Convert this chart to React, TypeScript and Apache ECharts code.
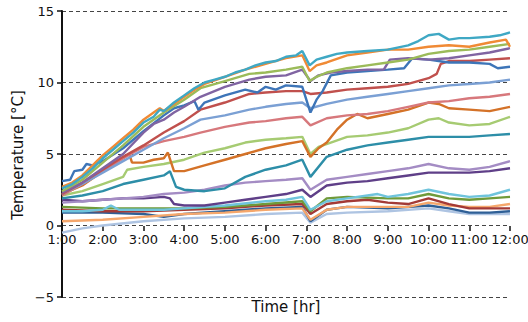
import React, { useEffect, useRef } from "react";
import * as echarts from "echarts";

const hourTicks = [1, 2, 3, 4, 5, 6, 7, 8, 9, 10, 11, 12];
const yTicks = [-5, 0, 5, 10, 15];

const cyan = [[1,2.6],[1.25,2.9],[1.5,3.4],[1.75,4.0],[2,4.7],[2.25,5.3],[2.5,5.9],[2.75,6.5],[3,7.2],[3.25,7.6],[3.4,8.1],[3.5,8.0],[3.75,8.6],[4,9.1],[4.25,9.6],[4.5,10.0],[4.75,10.2],[5,10.4],[5.25,10.7],[5.5,10.9],[5.75,11.2],[6,11.4],[6.25,11.5],[6.5,11.8],[6.75,11.9],[6.9,12.2],[7.08,11.2],[7.25,11.6],[7.5,11.8],[7.75,12.0],[8,12.1],[8.5,12.2],[9,12.3],[9.5,12.6],[9.75,12.9],[10,13.3],[10.25,13.4],[10.5,13.0],[10.75,13.1],[11,13.1],[11.5,13.2],[11.75,13.3],[12,13.5]];
const orange = [[1,2.7],[1.25,3.0],[1.5,3.5],[1.75,4.2],[2,4.9],[2.25,5.5],[2.5,6.1],[2.75,6.7],[3,7.4],[3.25,7.9],[3.4,8.2],[3.5,8.0],[3.75,8.5],[4,9.0],[4.25,9.5],[4.5,9.9],[5,10.4],[5.5,10.9],[6,11.3],[6.5,11.7],[6.9,11.9],[7.08,10.8],[7.25,11.2],[7.5,11.4],[8,11.9],[8.5,12.1],[9,12.3],[9.5,12.3],[10,12.5],[10.5,12.6],[11,12.5],[11.5,12.8],[11.9,13.0],[12,12.5]];
const green = [[1,2.4],[1.5,3.2],[2,4.4],[2.5,5.6],[3,6.9],[3.5,7.9],[4,8.8],[4.4,9.6],[5,10.1],[5.6,10.6],[6,10.7],[6.5,10.9],[6.9,11.1],[7.08,10.1],[7.25,10.4],[7.5,10.7],[8,11.0],[8.5,11.2],[9,11.4],[9.5,11.6],[10,12.0],[10.5,12.2],[11,12.3],[11.5,12.5],[12,12.7]];
const purple = [[1,2.3],[1.5,3.0],[2,4.0],[2.5,5.0],[3,6.5],[3.25,7.1],[3.5,7.4],[3.75,7.9],[4,8.3],[4.4,9.0],[5,9.7],[5.6,10.2],[6,10.4],[6.5,10.5],[6.9,10.9],[7.1,10.1],[7.3,10.5],[7.6,10.7],[8,10.8],[8.5,10.9],[8.9,10.9],[9.05,11.6],[9.5,11.7],[10,11.6],[10.5,11.7],[11,11.9],[11.5,12.1],[12,12.4]];
const blue = [[1,3.1],[1.2,3.2],[1.3,3.8],[1.5,3.9],[1.6,4.3],[1.75,4.2],[2,4.5],[2.5,5.4],[3,6.6],[3.5,7.7],[3.75,8.2],[4,8.4],[4.25,8.7],[4.35,8.1],[4.5,8.6],[5,9.1],[5.5,9.5],[5.8,9.3],[6,9.7],[6.25,9.5],[6.5,9.8],[6.9,9.7],[7.1,7.9],[7.25,8.8],[7.4,9.4],[7.6,10.5],[8,10.7],[8.5,10.8],[9,10.9],[9.4,11.0],[9.6,11.7],[10,11.6],[10.5,11.4],[11,11.4],[11.5,11.3],[11.7,11.0],[12,11.1]];
const red = [[1,2.2],[1.5,3.0],[2,3.9],[2.5,4.8],[3,5.6],[3.5,6.5],[4,7.3],[4.4,8.1],[5,8.6],[5.6,9.2],[6,9.3],[6.5,9.4],[6.9,9.4],[7.1,9.2],[7.5,9.3],[8,9.5],[8.5,9.6],[9,9.7],[9.5,9.9],[10,10.3],[10.2,10.6],[10.3,11.3],[10.5,11.5],[11,11.5],[11.5,11.6],[12,11.7]];
const lightBlue = [[1,2.2],[1.5,2.9],[2,3.7],[2.5,4.5],[3,5.3],[3.5,6.1],[4,6.8],[4.4,7.4],[5,7.7],[5.6,8.1],[6,8.3],[6.5,8.5],[6.9,8.6],[7.1,8.2],[7.5,8.5],[8,8.8],[8.5,9.0],[9,9.2],[9.5,9.4],[10,9.6],[10.5,9.8],[11,9.9],[11.5,10.0],[12,10.2]];
const pink = [[1,2.1],[1.5,2.9],[2,3.8],[2.5,4.7],[3,5.5],[3.5,5.9],[4,6.2],[4.4,6.5],[5,6.9],[5.6,7.2],[6,7.3],[6.5,7.5],[6.9,7.6],[7.1,7.0],[7.5,7.5],[8,7.7],[8.5,7.8],[9,8.0],[9.5,8.3],[10,8.6],[10.5,8.7],[11,8.9],[11.5,9.0],[12,9.2]];
const darkOrange = [[1,2.2],[1.5,2.8],[2,3.8],[2.5,4.7],[2.65,5.0],[2.72,4.4],[3,4.4],[3.25,4.6],[3.5,4.7],[3.6,5.1],[3.68,4.4],[3.75,3.8],[4,3.8],[4.5,4.2],[5,4.6],[5.5,5.0],[6,5.4],[6.5,5.7],[6.9,5.9],[7.1,4.8],[7.3,5.4],[7.5,5.8],[7.75,6.7],[8,7.4],[8.25,7.8],[8.5,7.5],[9,7.8],[9.5,8.1],[10,8.6],[10.25,8.5],[10.5,8.2],[11,8.1],[11.5,8.0],[12,8.3]];
const lightGreen = [[1,2.1],[1.5,2.4],[2,2.9],[2.5,3.4],[2.6,3.9],[3,4.1],[3.5,4.3],[4,4.6],[4.5,5.1],[5,5.4],[5.5,5.8],[6,6.0],[6.5,6.1],[6.9,6.2],[7.1,5.0],[7.3,5.5],[7.6,5.8],[8,6.2],[8.5,6.3],[9,6.5],[9.5,6.8],[10,7.4],[10.25,7.5],[10.5,7.2],[11,7.0],[11.5,7.1],[12,7.6]];
const teal = [[1,1.9],[1.5,2.1],[2,2.4],[2.5,2.9],[3,3.2],[3.5,3.5],[3.65,3.8],[3.8,2.7],[4,2.5],[4.5,2.4],[5,2.6],[5.5,3.4],[6,3.9],[6.5,4.2],[6.9,4.6],[7.1,3.4],[7.5,4.8],[8,5.3],[8.5,5.6],[9,5.8],[9.5,6.0],[10,6.2],[10.5,6.2],[11,6.2],[11.5,6.3],[12,6.4]];
const lightPurple = [[1,1.6],[1.5,1.7],[2,1.8],[2.5,1.9],[3,2.0],[3.5,2.2],[4,2.3],[4.5,2.5],[5,2.8],[5.5,3.0],[6,3.1],[6.5,3.2],[6.9,3.3],[7.1,2.5],[7.5,3.2],[8,3.4],[8.5,3.6],[9,3.8],[9.5,4.0],[10,4.3],[10.5,4.0],[11,3.9],[11.5,4.1],[12,4.5]];
const darkPurple = [[1,1.8],[1.5,1.7],[2,1.8],[2.5,1.9],[3,1.9],[3.5,2.0],[3.65,1.9],[3.75,1.5],[4,1.4],[4.5,1.4],[5,1.6],[5.5,1.8],[6,2.0],[6.5,2.2],[6.9,2.5],[7.1,2.0],[7.5,2.8],[8,3.0],[8.5,3.1],[9,3.3],[9.5,3.5],[10,3.7],[10.5,3.7],[11,3.7],[11.5,3.8],[12,4.0]];
const lightCyan = [[1,1.0],[1.5,1.0],[2,1.1],[2.2,1.4],[2.4,1.1],[3,1.1],[3.5,1.1],[4,1.2],[5,1.4],[6,1.7],[6.5,1.8],[6.9,2.0],[7.1,1.1],[7.5,1.7],[8,1.9],[8.75,2.2],[9,2.0],[9.5,2.2],[10,2.5],[10.5,2.2],[11,2.0],[11.5,2.1],[12,2.5]];
const green2 = [[1,1.3],[2,1.2],[3,1.2],[4,1.2],[5,1.3],[6,1.5],[6.9,1.7],[7.1,1.0],[7.5,1.9],[8,2.0],[9,1.9],[9.5,1.9],[10,2.2],[10.5,1.9],[11,1.8],[11.5,1.9],[12,2.0]];
const darkRed = [[1,1.1],[2,1.0],[3,1.0],[4,1.1],[5,1.2],[6,1.4],[6.9,1.5],[7.1,0.8],[7.5,1.5],[8,1.7],[8.5,1.8],[9,1.6],[9.5,1.5],[10,1.9],[10.5,1.5],[11,1.2],[11.5,1.2],[12,1.2]];
const lightOrange = [[1,0.3],[2,0.4],[3,0.6],[4,0.8],[5,0.9],[6,1.1],[6.9,1.2],[7.1,0.4],[7.5,1.1],[8,1.3],[9,1.3],[9.5,1.3],[10,1.6],[10.5,1.4],[11,1.3],[11.5,1.3],[12,1.5]];
const darkBlue = [[1,0.9],[2,0.9],[3,0.8],[3.5,0.6],[4,0.8],[5,1.0],[6,1.2],[6.9,1.3],[7.1,0.3],[7.5,1.1],[8,1.3],[9,1.2],[10,1.4],[10.5,1.2],[11,0.9],[11.5,0.9],[12,1.0]];
const grayBlue = [[1,-0.5],[1.5,-0.2],[2,0.0],[3,0.3],[4,0.5],[5,0.6],[6,0.8],[6.9,0.9],[7.1,0.2],[7.5,0.8],[8,0.9],[9,1.0],[10,1.2],[10.5,1.0],[11,0.8],[12,0.8]];

const seriesList: [string, number[][], string][] = [
  ["S19", grayBlue, "#aec4e2"],
  ["S18", darkBlue, "#2e5f96"],
  ["S17", lightOrange, "#f5a76c"],
  ["S16", darkRed, "#a33a36"],
  ["S15", green2, "#6f9a3a"],
  ["S14", lightCyan, "#6fc4dc"],
  ["S13", darkPurple, "#5f3f88"],
  ["S12", lightPurple, "#a48cc4"],
  ["S11", teal, "#2d8ea8"],
  ["S10", lightGreen, "#a6cb72"],
  ["S9", darkOrange, "#d47228"],
  ["S8", pink, "#d7787c"],
  ["S7", lightBlue, "#7ba0d4"],
  ["S6", red, "#c0504d"],
  ["S5", blue, "#3d75b8"],
  ["S4", purple, "#8064a2"],
  ["S3", green, "#9bbb59"],
  ["S2", orange, "#f08a35"],
  ["S1", cyan, "#3fa8c4"],
];

const FONT = "DejaVu Sans";

export default function App() {
  const ref = useRef<HTMLDivElement>(null);
  useEffect(() => {
    if (!ref.current) return;
    const chart = echarts.init(ref.current, null, { renderer: "svg" });
    const xMin = hourTicks[0];
    const xMax = hourTicks[hourTicks.length - 1];
    chart.setOption({
      animation: false,
      grid: [
        { left: 62, right: 18, top: 11, bottom: 25, containLabel: false, outerBoundsMode: "none" },
        // upper half only: its bottom edge is the 0 °C line, where the time axis sits
        { left: 62, right: 18, top: 11, bottom: 96, containLabel: false, outerBoundsMode: "none" },
      ],
      graphic: [
        {
          type: "text",
          x: 286,
          y: 307,
          style: { text: "Time [hr]", fontFamily: FONT, fontSize: 15, fill: "#111", align: "center", verticalAlign: "middle" },
        },
        {
          type: "text",
          x: 18,
          y: 155,
          rotation: Math.PI / 2,
          style: { text: "Temperature [°C]", fontFamily: FONT, fontSize: 15, fill: "#111", align: "center", verticalAlign: "middle" },
        },
      ],
      xAxis: [
        {
          type: "value",
          gridIndex: 0,
          min: xMin,
          max: xMax,
          interval: 1,
          axisLine: { show: false },
          axisTick: { show: false },
          axisLabel: { show: false },
          splitLine: { show: false },
        },
        {
          type: "value",
          gridIndex: 1,
          min: xMin,
          max: xMax,
          interval: 1,
          axisLine: { show: false, onZero: false },
          axisTick: { show: true, length: 5, lineStyle: { color: "#111", width: 1.5 } },
          axisLabel: {
            margin: 7,
            fontFamily: FONT,
            fontSize: 13,
            color: "#111",
            formatter: (v: number) => `${v}:00`,
          },
          splitLine: { show: false },
        },
      ],
      yAxis: [
        {
          type: "value",
          gridIndex: 0,
          min: yTicks[0],
          max: yTicks[yTicks.length - 1],
          interval: 5,
          axisLine: { show: true, lineStyle: { color: "#111", width: 2 } },
          axisTick: { show: true, length: 5, lineStyle: { color: "#111", width: 1.5 } },
          axisLabel: {
            margin: 8,
            fontFamily: FONT,
            fontSize: 13,
            color: "#111",
            formatter: (v: number) => (v < 0 ? "\u2212" + Math.abs(v) : String(v)),
          },
          splitLine: { show: true, lineStyle: { type: [4, 3], color: "#444", width: 1 } },
        },
        {
          type: "value",
          gridIndex: 1,
          min: 0,
          max: yTicks[yTicks.length - 1],
          show: false,
        },
      ],
      series: seriesList.map(([name, data, color]) => ({
        name,
        type: "line",
        xAxisIndex: 0,
        yAxisIndex: 0,
        data,
        showSymbol: false,
        symbol: "none",
        lineStyle: { color, width: 2.4 },
        itemStyle: { color },
      })),
    });
    return () => chart.dispose();
  }, []);
  return <div ref={ref} style={{ width: 528, height: 322, position: "absolute", left: 0, top: 0 }} />;
}
